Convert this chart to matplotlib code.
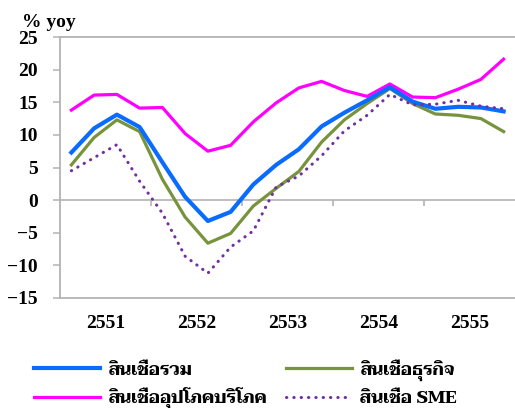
import matplotlib
matplotlib.use("Agg")
import matplotlib.pyplot as plt
from matplotlib.lines import Line2D

# Quarterly loan growth, % year-on-year (Thai fiscal years 2551-2555)
years = ["2551", "2552", "2553", "2554", "2555"]
total_loans = [7.3, 11.0, 13.1, 11.2, 5.8, 0.5, -3.2, -1.8, 2.4, 5.4, 7.8, 11.3,
               13.4, 15.3, 17.3, 15.1, 14.0, 14.3, 14.2, 13.6]
business_loans = [5.4, 9.6, 12.3, 10.5, 3.2, -2.6, -6.6, -5.1, -0.9, 1.8, 4.4, 8.9,
                  12.3, 14.8, 17.1, 14.8, 13.2, 13.0, 12.5, 10.5]
consumer_loans = [13.8, 16.1, 16.2, 14.1, 14.2, 10.2, 7.5, 8.4, 12.0, 14.9, 17.2, 18.2,
                  16.8, 15.9, 17.8, 15.8, 15.7, 17.0, 18.5, 21.6]
sme_loans = [4.5, 6.5, 8.5, 2.9, -2.0, -8.6, -11.2, -7.2, -4.7, 2.0, 3.7, 6.8,
             10.6, 13.0, 16.2, 14.6, 14.7, 15.3, 14.4, 14.0]
series_labels = ["สินเชื่อรวม", "สินเชื่ออุปโภคบริโภค", "สินเชื่อธุรกิจ", "สินเชื่อ SME"]

NUM_FONT = "Liberation Serif"
THAI_FONT = ["Taviraj", "Sarabun", "DejaVu Sans"]
GRAY = "#b3b3b3"

fig = plt.figure(figsize=(5.15, 4.08), dpi=100)
ax = fig.add_axes([60 / 515, 1 - 298 / 408, 1 - 60 / 515, (298 - 37) / 408])

n = len(total_loans)
x = list(range(n))
q_per_year = n // len(years)

l_total, = ax.plot(x, total_loans, color="#0a6cff", lw=3.0, solid_joinstyle="round", zorder=4)
l_bus, = ax.plot(x, business_loans, color="#77933c", lw=2.3, solid_joinstyle="round", zorder=3)
l_cons, = ax.plot(x, consumer_loans, color="#ff00ff", lw=2.3, solid_joinstyle="round", zorder=3)
l_sme, = ax.plot(x, sme_loans, color="#7030a0", lw=2.2, linestyle=(0, (0.1, 2.3)),
                 dash_capstyle="round", zorder=5)

ax.set_xlim(-0.5, n - 0.5)
ax.set_ylim(-15, 25)

# zero line with year-boundary ticks hanging below it
ax.axhline(0, color=GRAY, lw=1.2, zorder=1)
bounds = [q_per_year * k - 0.5 for k in range(1, len(years))]
ax.vlines(bounds, -0.95, 0, color=GRAY, lw=1.2, zorder=1)

centers = [q_per_year * k + (q_per_year - 1) / 2 for k in range(len(years))]
ax.set_xticks(centers)
ax.set_xticklabels(years)
ax.tick_params(axis="x", length=0, pad=12)
ax.set_yticks(range(-15, 26, 5))
ax.tick_params(axis="y", length=5, width=1.1, color=GRAY, pad=11)
for lab in ax.get_xticklabels() + ax.get_yticklabels():
    lab.set_fontfamily(NUM_FONT)
    lab.set_fontweight("bold")
    lab.set_fontsize(14)

for side in ("left", "top", "bottom"):
    ax.spines[side].set_color(GRAY)
    ax.spines[side].set_linewidth(1.3)
ax.spines["right"].set_visible(False)

fig.text(22 / 515, 1 - 27 / 408, "% yoy", fontfamily=NUM_FONT, fontweight="bold",
         fontsize=14, va="baseline", ha="left")

handles = [l_total, l_cons, l_bus,
           Line2D([], [], color="#7030a0", lw=2.2, linestyle=(0, (0.1, 2.3)),
                  dash_capstyle="round")]
leg = fig.legend(handles, series_labels, ncol=2, loc="upper left",
                 bbox_to_anchor=(34 / 515, 1 - 359 / 408), frameon=False,
                 borderpad=0, borderaxespad=0, handlelength=3.8, handletextpad=0.5,
                 columnspacing=1.05, labelspacing=0.55,
                 prop={"family": THAI_FONT, "weight": "bold", "size": 12.5})

fig.savefig("out.png", dpi=100)
